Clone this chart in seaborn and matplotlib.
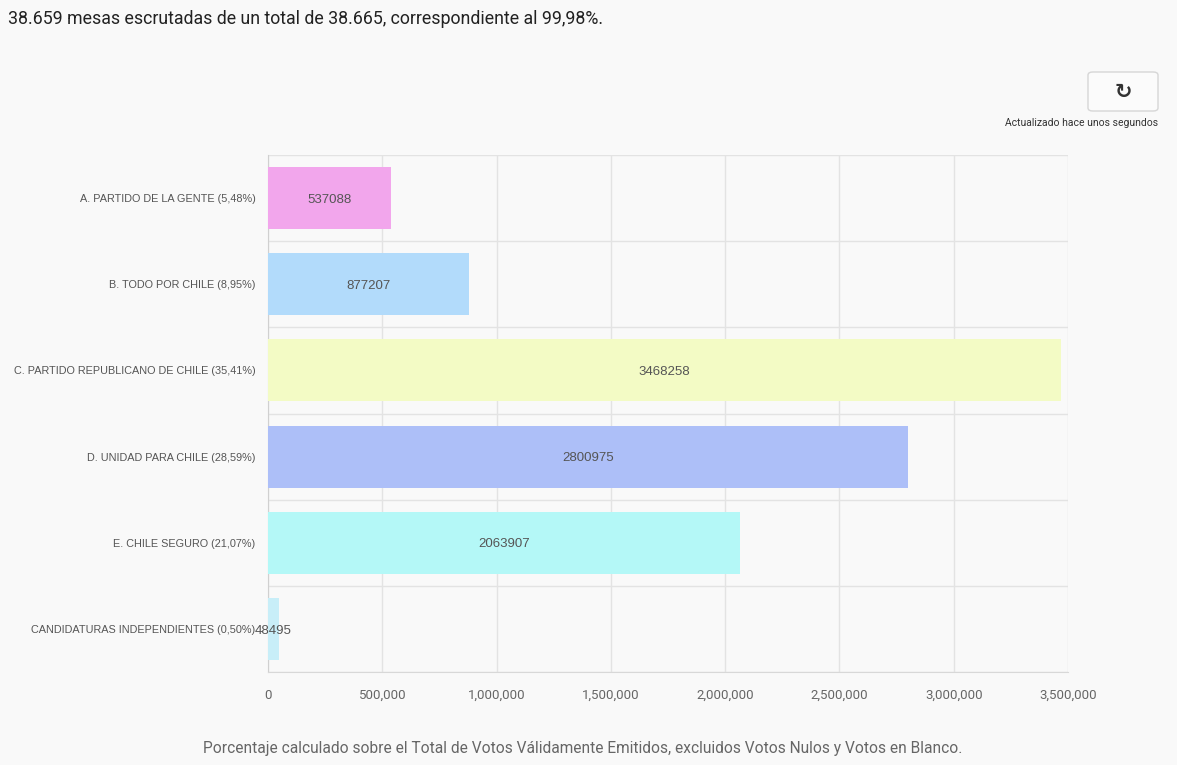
import pandas as pd
import seaborn as sns
import matplotlib.pyplot as plt
from matplotlib.patches import FancyBboxPatch
from matplotlib.ticker import FuncFormatter, FixedLocator

# Datos del gráfico
categorias = [
    'A. PARTIDO DE LA GENTE (5,48%)',
    'B. TODO POR CHILE (8,95%)',
    'C. PARTIDO REPUBLICANO DE CHILE (35,41%)',
    'D. UNIDAD PARA CHILE (28,59%)',
    'E. CHILE SEGURO (21,07%)',
    'CANDIDATURAS INDEPENDIENTES (0,50%)',
]
votos = [537088, 877207, 3468258, 2800975, 2063907, 48495]
colores = ['#f2a6ec', '#b2dbfb', '#f3fbc5', '#adbff8', '#b4f8f7', '#c8eef8']
ticks_x = [0, 500000, 1000000, 1500000, 2000000, 2500000, 3000000, 3500000]

df = pd.DataFrame({'categoria': categorias, 'votos': votos})

sns.set_style('white')
plt.rcParams['font.family'] = ['Roboto', 'DejaVu Sans']
helv = ['Liberation Sans', 'DejaVu Sans']

fondo = '#f9f9f9'
fig = plt.figure(figsize=(11.77, 7.65), dpi=100, facecolor=fondo)
ax = fig.add_axes([268 / 1177, 1 - 672 / 765, 800 / 1177, 517 / 765])
ax.set_facecolor(fondo)

sns.barplot(data=df, x='votos', y='categoria', hue='categoria', palette=colores,
            saturation=1, legend=False, width=0.72, ax=ax, zorder=3, edgecolor='none')

ax.set_xlim(0, 3500000)
ax.set_ylim(len(categorias) - 0.5, -0.5)
ax.xaxis.set_major_locator(FixedLocator(ticks_x))
ax.xaxis.set_major_formatter(FuncFormatter(lambda v, p: f'{int(v):,}'))
ax.set_yticks([i + 0.5 for i in range(-1, len(categorias))], minor=True)
ax.grid(True, axis='x', color='#e3e3e3', linewidth=1, zorder=0)
ax.grid(True, axis='y', which='minor', color='#e3e3e3', linewidth=1, zorder=0)
ax.tick_params(axis='y', which='minor', length=8, color='#e3e3e3', width=1)
ax.tick_params(axis='y', which='major', length=0, labelcolor='#555555', pad=9)
ax.tick_params(axis='x', length=0, labelsize=9.5, labelcolor='#666666', pad=12)
for etiqueta in ax.get_yticklabels():
    etiqueta.set_family(helv)
    etiqueta.set_fontsize(7.8)
ax.set_xlabel('')
ax.set_ylabel('')
for lado in ['top', 'right']:
    ax.spines[lado].set_visible(False)
ax.spines['left'].set_color('#d0d0d0')
ax.spines['bottom'].set_color('#d8d8d8')

for i, v in enumerate(votos):
    ax.text(v / 2, i + 0.02, str(v), ha='center', va='center', fontsize=9.5,
            color='#555555', zorder=4, family=helv)

fig.text(8 / 1177, 1 - 19 / 765, '38.659 mesas escrutadas de un total de 38.665, correspondiente al 99,98%.',
         ha='left', va='center', fontsize=12.8, color='#222222')

# Botón de actualización
boton = FancyBboxPatch((1088 / 1177, 1 - 111 / 765), 70 / 1177, 39 / 765,
                       boxstyle='round,pad=0,rounding_size=0.004',
                       transform=fig.transFigure, facecolor='#fbfbfb',
                       edgecolor='#d6d6d6', linewidth=1)
fig.patches.append(boton)
fig.text(1123 / 1177, 1 - 92 / 765, '\u21bb', ha='center', va='center', fontsize=15,
         fontweight='bold', color='#333333', family=['DejaVu Sans'])
fig.text(1158 / 1177, 1 - 123 / 765, 'Actualizado hace unos segundos', ha='right',
         va='center', fontsize=7.5, color='#333333')

fig.text(583 / 1177, 1 - 748 / 765,
         'Porcentaje calculado sobre el Total de Votos Válidamente Emitidos, excluidos Votos Nulos y Votos en Blanco.',
         ha='center', va='center', fontsize=11.2, color='#666666')

fig.savefig('out.png', dpi=100, facecolor=fondo)
